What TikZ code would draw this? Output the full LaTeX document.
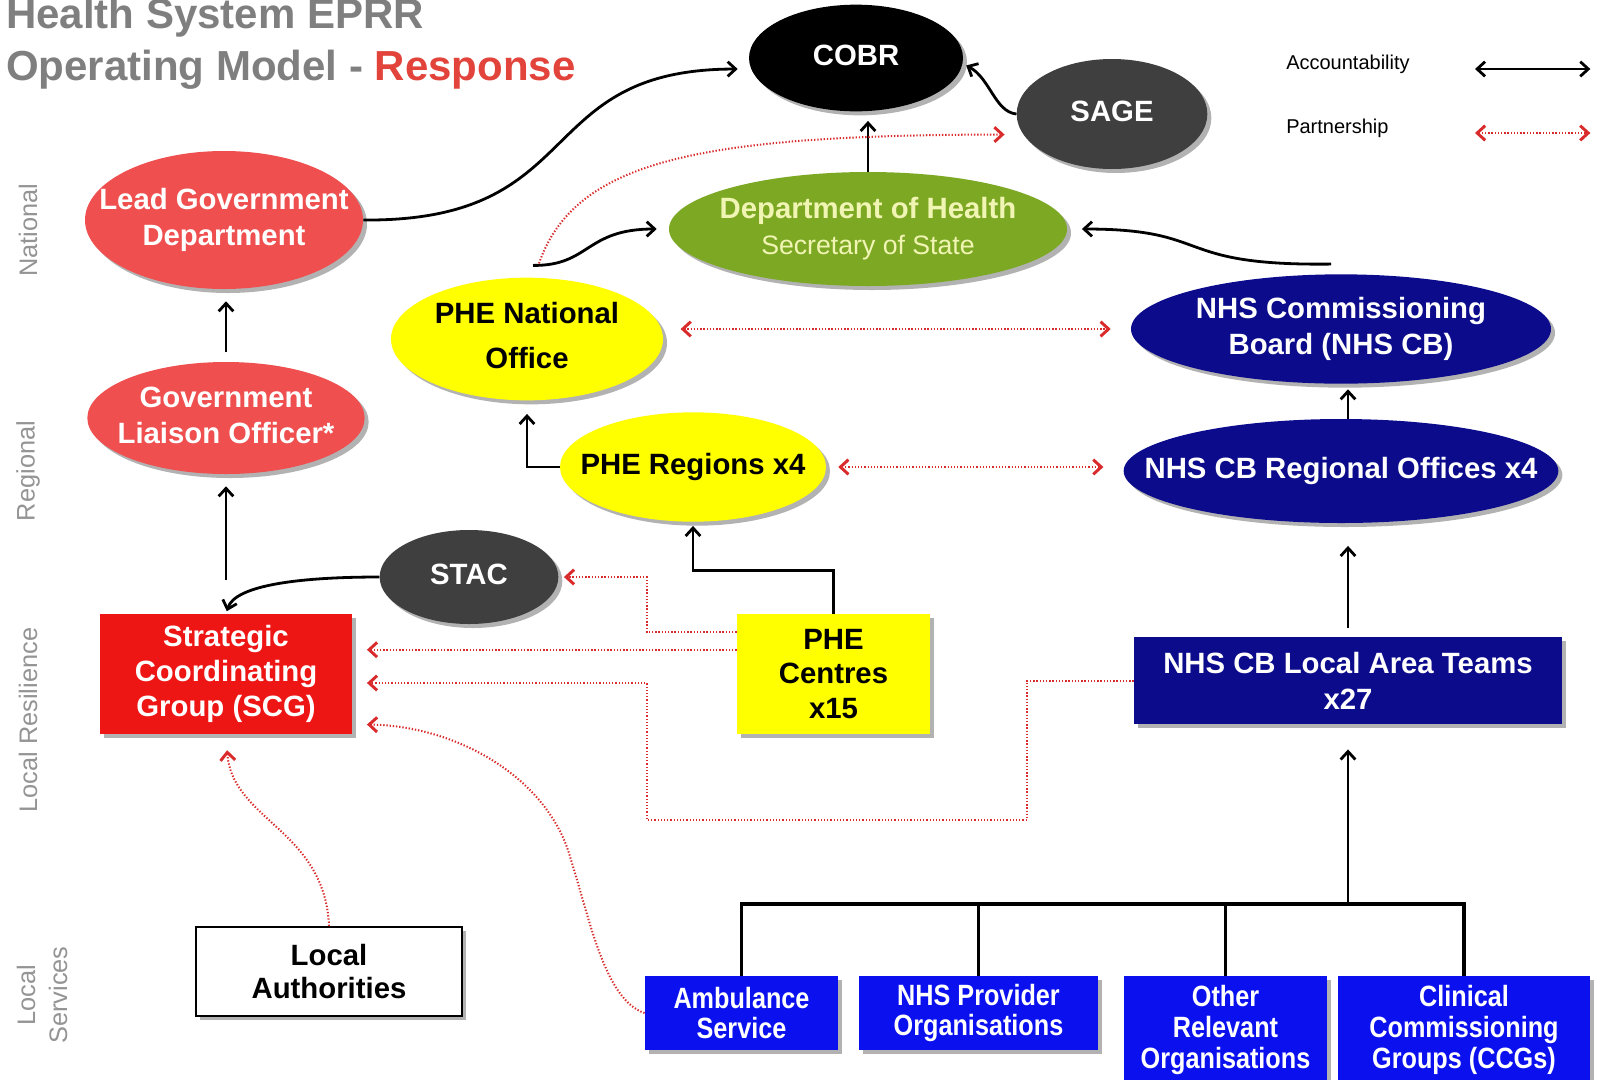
\documentclass[tikz,border=0pt]{standalone}
\usepackage{fontspec}
\setmainfont{Liberation Sans}
\newfontfamily\narrowfont[FakeStretch=0.86]{Liberation Sans}
\usetikzlibrary{shapes.geometric, arrows.meta, shadows, calc}

\definecolor{lgdred}{HTML}{EF4F4F}
\definecolor{scgred}{HTML}{EE1515}
\definecolor{darkgrey}{HTML}{3F3F3F}
\definecolor{dohgreen}{HTML}{7DA824}
\definecolor{dohtext}{HTML}{F1F5B4}
\definecolor{pheyellow}{HTML}{FFFF00}
\definecolor{nhsnavy}{HTML}{0B0B8C}
\definecolor{nhsblue}{HTML}{0A10EE}
\definecolor{partred}{HTML}{D92B2B}
\definecolor{titlegrey}{HTML}{7F7F7F}
\definecolor{sidegrey}{HTML}{949494}
\definecolor{resred}{HTML}{E2443B}

% label of an oval, kept out of the shape's size
\newcommand{\ovaltext}[1]{\makebox[0pt]{\begin{tabular}{@{}c@{}}#1\end{tabular}}}

\tikzset{
  softshadow/.style={drop shadow={opacity=0.3, shadow xshift=3pt, shadow yshift=-3pt, fill=black}},
  oval/.style={ellipse, inner sep=0pt, softshadow, font=\bfseries\fontsize{22}{27}\selectfont},
  panel/.style={rectangle, inner sep=0pt, align=center, softshadow, font=\bfseries\fontsize{22}{26}\selectfont},
  service/.style={panel, fill=nhsblue, text=white, font=\narrowfont\bfseries\fontsize{22}{23}\selectfont},
  sidelbl/.style={rotate=90, align=center, text=sidegrey, font=\fontsize{19}{24}\selectfont},
  legtext/.style={anchor=west, inner sep=0pt, font=\fontsize{15}{18}\selectfont},
  titletext/.style={anchor=base west, inner sep=0pt, text=titlegrey, font=\bfseries\fontsize{31.5}{38}\selectfont},
  account/.style={draw=black, line width=2.1pt, -{Straight Barb[length=6pt,width=11pt]}},
  partner/.style={draw=partred, line width=1.5pt, dash pattern=on 1pt off 1.4pt,
    -{Straight Barb[length=6pt,width=11pt,line width=2.2pt]}},
  tree/.style={draw=black, line width=2.4pt}
}

\begin{document}
\begin{tikzpicture}[x=0.75pt,y=0.75pt,yscale=-1,xscale=1]
\useasboundingbox[fill=white] (0,0) rectangle (1598,1079);

% Text Node
\node[titletext] (title1) at (6,28) {Health System EPRR};
% Text Node
\node[titletext] (title2) at (6,80) {Operating Model - \textcolor{resred}{Response}};

% Text Node
\node[sidelbl] (nat) at (28,230) {National};
% Text Node
\node[sidelbl] (reg) at (28,471) {Regional};
% Text Node
\node[sidelbl] (lres) at (28,720) {Local Resilience};
% Text Node
\node[sidelbl] (lserv) at (42,995) {Local\\Services};

%Shape: Ellipse
\node[oval, fill=black, text=white, minimum width=160.5pt, minimum height=80pt] (cobr) at (856,58) {\ovaltext{COBR}};
%Shape: Ellipse
\node[oval, fill=darkgrey, text=white, minimum width=143pt, minimum height=82.5pt] (sage) at (1112,114) {\ovaltext{SAGE}};
%Shape: Ellipse
\node[oval, fill=dohgreen, text=dohtext, minimum width=298.5pt, minimum height=85.5pt] (doh) at (868,229)
  {\ovaltext{Department of Health\\{\mdseries\fontsize{20}{27}\selectfont Secretary of State}}};
%Shape: Ellipse
\node[oval, fill=lgdred, text=white, minimum width=208.5pt, minimum height=103.5pt] (lgd) at (224,220) {\ovaltext{Lead Government\\Department}};
%Shape: Ellipse
\node[oval, fill=lgdred, text=white, minimum width=208pt, minimum height=84pt] (glo) at (226,418) {\ovaltext{Government\\Liaison Officer*}};
%Shape: Ellipse
\node[oval, fill=pheyellow, text=black, minimum width=204pt, minimum height=92pt] (pnat) at (527,339) {\ovaltext{PHE National\\[7pt]Office}};
%Shape: Ellipse
\node[oval, fill=nhsnavy, text=white, minimum width=315pt, minimum height=82pt] (nhscb) at (1341,329) {\ovaltext{NHS Commissioning\\Board (NHS CB)}};
%Shape: Ellipse
\node[oval, fill=pheyellow, text=black, minimum width=199.5pt, minimum height=82pt] (preg) at (693,467) {\ovaltext{PHE Regions x4}};
%Shape: Ellipse
\node[oval, fill=nhsnavy, text=white, minimum width=326pt, minimum height=78pt] (ro) at (1341,471) {\ovaltext{NHS CB Regional Offices x4}};
%Shape: Ellipse
\node[oval, fill=darkgrey, text=white, minimum width=134pt, minimum height=70.5pt] (stac) at (469,577) {\ovaltext{STAC}};

%Shape: Rectangle
\node[panel, fill=scgred, text=white, minimum width=189pt, minimum height=90pt] (scg) at (226,674) {Strategic\\Coordinating\\Group (SCG)};
%Shape: Rectangle
\node[panel, fill=pheyellow, text=black, minimum width=145pt, minimum height=90pt] (phec) at (833.5,674) {PHE\\Centres\\x15};
%Shape: Rectangle
\node[panel, fill=nhsnavy, text=white, minimum width=321pt, minimum height=65pt, font=\bfseries\fontsize{22}{27}\selectfont] (lat) at (1348,680.5) {NHS CB Local Area Teams\\x27};
%Shape: Rectangle
\node[panel, fill=white, draw=black, line width=1.2pt, text=black, minimum width=199.5pt, minimum height=67pt, font=\bfseries\fontsize{22}{25}\selectfont] (la) at (329,971.5) {Local\\Authorities};
%Shape: Rectangle
\node[service, minimum width=145pt, minimum height=55.5pt] (amb) at (741.5,1013) {Ambulance\\Service};
\node[service, minimum width=179pt, minimum height=55.5pt] (prov) at (978.5,1013) {NHS Provider\\Organisations};
\node[service, minimum width=152pt, minimum height=81pt] (other) at (1225.5,1030) {Other\\Relevant\\Organisations};
\node[service, minimum width=189pt, minimum height=81pt] (ccg) at (1464,1030) {Clinical\\Commissioning\\Groups (CCGs)};

% Legend
\node[legtext] (acclbl) at (1286,64) {Accountability};
\node[legtext] (partlbl) at (1286,128) {Partnership};
\coordinate (accA) at (1475,69);
\coordinate (accB) at (1593,69);
\coordinate (partA) at (1475,133);
\coordinate (partB) at (1593,133);
\draw[account, {Straight Barb[length=6pt,width=11pt]}-{Straight Barb[length=6pt,width=11pt]}, shorten >=2pt] (accA) -- (accB);
\draw[partner, {Straight Barb[length=6pt,width=11pt,line width=2.2pt]}-{Straight Barb[length=6pt,width=11pt,line width=2.2pt]}, shorten >=2pt] (partA) -- (partB);

%Curve Lines (accountability)
\draw[account, shorten >=10pt] (lgd.east) .. controls (590,222) and (530,69) .. (cobr.186);
\draw[account, shorten >=3pt] (sage.west) .. controls (995,112) and (990,78) .. (cobr.-3);
\draw[account, shorten >=7pt] (doh.north) -- (doh.north |- cobr.south);
\draw[account, shorten >=9pt] ($(pnat.north)+(6,-12)$) .. controls (590,266) and (585,229) .. (doh.west);
\draw[account, shorten >=11pt] ($(nhscb.north)+(-10,-10)$) .. controls (1170,266) and (1215,229) .. (doh.east);
\draw[account, shorten <=7pt, shorten >=9pt] (glo.north) -- (glo.north |- lgd.south);
\draw[account, shorten <=25pt, shorten >=9pt] (scg.north) -- (glo.south);
\draw[account, shorten >=2pt] (stac.west) .. controls (300,577) and (235,585) .. (scg.north);
\draw[account, shorten >=10pt] (preg.west) -| (pnat.south);
\draw[account, shorten >=3pt] (phec.north) -- ++(0,-43) -| (preg.south);
\draw[account, shorten >=4pt] (lat.north |- ro.north) -- (lat.north |- nhscb.south);
\draw[account, shorten <=7pt, shorten >=17pt] (lat.north) -- (lat.north |- ro.south);

%Straight Lines (local services)
\coordinate (bus) at (1348,904);
\draw[tree] (amb.north) |- (bus);
\draw[tree] (prov.north) |- (bus);
\draw[tree] (other.north) |- (bus);
\draw[tree] (ccg.north) |- (bus);
\draw[account, shorten >=19pt] (bus) -- (lat.south);

%Curve Lines (partnership)
\draw[partner, {Straight Barb[length=6pt,width=11pt,line width=2.2pt]}-{Straight Barb[length=6pt,width=11pt,line width=2.2pt]}, shorten <=13pt, shorten >=15pt] (pnat.east |- nhscb.west) -- (nhscb.west);
\draw[partner, {Straight Barb[length=6pt,width=11pt,line width=2.2pt]}-{Straight Barb[length=6pt,width=11pt,line width=2.2pt]}, shorten <=9pt, shorten >=15pt] (preg.east) -- (preg.east -| ro.west);
\draw[partner, shorten >=14pt] ($(pnat.north)+(12,-14)$) .. controls (575,160) and (700,135) .. (sage.193);
\draw[partner, shorten >=4pt] ($(phec.north west)+(0,18)$) -- ++(-90,0) |- (stac.east);
\draw[partner, shorten >=11pt] ($(phec.north west)+(0,36)$) -- ($(scg.north east)+(0,36)$);
\draw[partner, shorten >=11pt] (lat.west) -| (1027,820) -| (647,683) -- (scg.east |- 0,683);
\draw[partner, shorten >=11pt] (amb.west) .. controls (605,1000) and (590,920) .. (571,860) .. controls (550,780) and (460,726) .. ($(scg.south east)+(0,-10)$);
\draw[partner, shorten >=12pt] (la.north) .. controls (325,830) and (232,820) .. (scg.south);

\end{tikzpicture}
\end{document}
